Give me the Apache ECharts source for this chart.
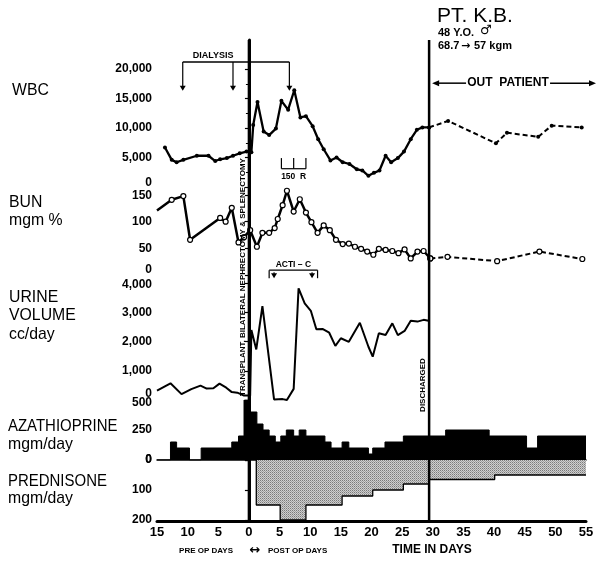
<!DOCTYPE html>
<html>
<head>
<meta charset="utf-8">
<script src="https://cdn.jsdelivr.net/npm/echarts@6/dist/echarts.min.js"></script>
<style>
  html, body { margin: 0; padding: 0; background: #fff; }
  #chart { width: 601px; height: 562px; }
</style>
</head>
<body>
<div id="chart"></div>
<script>
// days: minus = pre op, 0 = transplant
const wbcDays = [-13.7, -12.6, -11.8, -10.7, -8.5, -6.6, -5.5, -4.7, -3.6, -2.6, -1.5, -0.4, 0.4, 0.7, 1.4, 2.4, 3.3, 4.4, 5.3, 6.4, 7.4, 8.4, 9.3, 10.4, 11.3, 12.2, 13.3, 14.3, 15.3, 16.4, 17.6, 18.5, 19.5, 20.4, 21.3, 22.3, 23.2, 24.3, 25.3, 26.4, 27.4, 28.3, 29.4]
const wbcValues = [6700, 4600, 4200, 4600, 5300, 5300, 4400, 4700, 4900, 5300, 5700, 6000, 5900, 10500, 14400, 9400, 8800, 9900, 14600, 13100, 16400, 11800, 12000, 10300, 8100, 6400, 4500, 5000, 4200, 3900, 3000, 2800, 1900, 2400, 2800, 5300, 4200, 4900, 6000, 8100, 9700, 10100, 10100]
const wbcOutDays = [29.4, 32.5, 40.3, 42.1, 47.2, 49.4, 54.3]
const wbcOutValues = [10100, 11200, 7400, 9200, 8500, 10400, 10100]

const bunDays = [-15, -12.6, -10.7, -9.6, -4.7, -3.8, -2.8, -1.7, -0.8, 0.2, 1.3, 2.2, 3.3, 4.2, 4.7, 5.5, 6.2, 7.3, 8.3, 9.3, 10.2, 11.2, 12.2, 13.2, 14.2, 15.3, 16.3, 17.3, 18.3, 19.3, 20.3, 21.2, 22.3, 23.4, 24.4, 25.4, 26.4, 27.5, 28.5, 29.6]
const bunValues = [121, 141, 148, 66, 107, 100, 126, 61, 71, 84, 53, 79, 79, 88, 105, 131, 158, 119, 142, 117, 99, 79, 93, 84, 66, 58, 59, 53, 49, 44, 38, 49, 47, 45, 41, 48, 31, 44, 45, 31]
const bunOutDays = [29.6, 32.4, 40.5, 47.4, 54.4]
const bunOutValues = [31, 34, 26, 44, 30]

const urineDays = [-15, -12.8, -11, -9.4, -7.9, -6.9, -5.8, -4.8, -3.7, -2.8, -1.9, -0.8, 0.2, 0.4, 0.7, 1.2, 2.2, 4.1, 5.5, 6.2, 7.3, 8.1, 9.1, 10.1, 11, 12, 13.1, 14.1, 15, 16.3, 18.1, 19.5, 20.2, 21.2, 22.3, 23.4, 24.3, 25.4, 26.4, 27.5, 28.5, 29.3]
const urineValues = [320, 570, 200, 370, 490, 390, 400, 560, 420, 270, 250, 150, 150, 2390, 2420, 1730, 3210, 20, 30, 0, 380, 3820, 3300, 3050, 2420, 2430, 2300, 1850, 2110, 1990, 2640, 1820, 1480, 2280, 2220, 2620, 2220, 2360, 2710, 2680, 2740, 2710]

// dose steps: dose[i] runs from edges[i] to edges[i + 1]
const azaEdges = [-15, -12.8, -11.8, -9.7, -7.8, -2.8, -1.7, -0.8, 0.2, 1.3, 2.3, 3.3, 4.3, 5.2, 6.1, 7.3, 8.2, 9.3, 12.4, 13.4, 15.2, 16.3, 19.5, 20.2, 22.2, 25.2, 32.1, 39.2, 45.3, 47.1, 55]
const azaDoses = [0, 150, 100, 0, 100, 150, 200, 500, 400, 300, 250, 200, 150, 200, 250, 200, 250, 200, 150, 100, 150, 100, 50, 100, 150, 200, 250, 200, 100, 200]
const predEdges = [1.2, 5.1, 9.3, 15.2, 20.2, 25.2, 29.4, 40.1, 55]
const predDoses = [150, 200, 150, 120, 100, 80, 65, 50]

const transplantDay = 0
const dischargeDay = 29.4
const dialysisDays = [-10.8, -2.6, 6.6]
const radiationDays = [5.3, 7.3, 9.3]
const actinomycinDays = [3.3, 4.1, 10.3, 11.2]

// [min, max, interval]
const wbcTicks = [0, 20000, 5000]
const bunTicks = [0, 150, 50]
const urineTicks = [0, 4000, 1000]
const azaTicks = [0, 500, 250]
const predTicks = [0, 200, 100]

const FONT = "'Liberation Sans', Arial, sans-serif"
const zip = (xs, ys) => xs.map((x, i) => [x, ys[i]])
function steps(edges, doses) {
    const pts = doses.map((d, i) => [edges[i], d])
    pts.push([edges[edges.length - 1], doses[doses.length - 1]])
    return pts
}

// fine grey shading for prednisone
function hatch() {
    const c = document.createElement('canvas')
    c.width = 2
    c.height = 2
    const g = c.getContext('2d')
    g.fillStyle = '#cfcfcf'
    g.fillRect(0, 0, 2, 2)
    g.fillStyle = '#7a7a7a'
    g.fillRect(0, 0, 1, 1)
    g.fillStyle = '#a0a0a0'
    g.fillRect(1, 1, 1, 1)
    return c
}

const LEFT = 157
const RIGHT = 15
const panels = [
    { top: 40, height: 481 }, // frame
    { top: 69, height: 118 }, // wbc
    { top: 195, height: 80 }, // bun
    { top: 283, height: 117 }, // urine
    { top: 400, height: 60 }, // azathioprine
    { top: 460, height: 60 }, // prednisone
]

const labelFont = { color: '#000', fontFamily: FONT, fontWeight: 'bold', fontSize: 12 }
// raise the bottom label and drop the top one a little, like the stacked scales of the original
function yAxisFor(gridIndex, t, raiseZero, dropTop, extra) {
    return Object.assign({
        gridIndex,
        type: 'value',
        min: t[0],
        max: t[1],
        interval: t[2],
        axisLine: { show: false },
        axisTick: { show: true, inside: false, length: 4, lineStyle: { color: '#000', width: 1.2 } },
        axisLabel: Object.assign({}, labelFont, {
            margin: 5,
            formatter: v => {
                const s = v.toLocaleString('en-US')
                if (v === t[0]) return raiseZero ? '{lo|' + s + '}' : s
                if (v === t[1]) return dropTop ? '{hi|' + s + '}' : s
                return s
            },
            rich: {
                lo: Object.assign({}, labelFont, { padding: [0, 0, raiseZero * 2, 0] }),
                hi: Object.assign({}, labelFont, { padding: [dropTop * 2, 0, 0, 0] }),
            },
        }),
        splitLine: { show: false },
    }, extra || {})
}

const chart = echarts.init(document.getElementById('chart'))

chart.setOption({
    animation: false,
    backgroundColor: '#fff',
    grid: panels.map(p => ({ left: LEFT, right: RIGHT, top: p.top, height: p.height })),
    xAxis: panels.map((p, i) => ({
        gridIndex: i,
        type: 'value',
        min: -15,
        max: 55,
        interval: 5,
        show: i === 0 || i === 4,
        axisLine: { show: true, lineStyle: { color: '#000', width: i === 0 ? 3 : 1.5 } },
        axisTick: { show: false },
        axisLabel: {
            show: i === 0,
            color: '#000',
            fontFamily: FONT,
            fontWeight: 'bold',
            fontSize: 13,
            margin: 5,
            formatter: v => Math.abs(v),
        },
        splitLine: { show: false },
    })),
    yAxis: [
        {
            gridIndex: 0, type: 'value', min: 0, max: 1,
            axisLine: { show: true, lineStyle: { color: '#000', width: 3 } },
            axisTick: { show: false }, axisLabel: { show: false }, splitLine: { show: false },
        },
        yAxisFor(1, wbcTicks, 4, 0, { minorTick: { show: true, splitNumber: 2, length: 3, lineStyle: { color: '#000' } } }),
        yAxisFor(2, bunTicks, 5, 1),
        yAxisFor(3, urineTicks, 6, 2),
        yAxisFor(4, azaTicks, 0, 3),
        yAxisFor(5, predTicks, 0, 0, { inverse: true }),
    ],
    series: [
        {
            // transplant and discharge markers
            type: 'custom',
            xAxisIndex: 0,
            yAxisIndex: 0,
            data: [[transplantDay, 0], [dischargeDay, 0]],
            renderItem(params, api) {
                const a = api.coord([api.value(0), 0])
                const b = api.coord([api.value(0), 1])
                return { type: 'line', shape: { x1: a[0], y1: a[1], x2: b[0], y2: b[1] }, style: { stroke: '#000', lineWidth: 2.5 } }
            },
            z: 5,
        },
        {
            type: 'line', xAxisIndex: 4, yAxisIndex: 4,
            data: steps(azaEdges, azaDoses),
            step: 'end', symbol: 'none',
            lineStyle: { color: '#000', width: 1 },
            areaStyle: { color: '#000', opacity: 1 },
        },
        {
            type: 'line', xAxisIndex: 5, yAxisIndex: 5,
            data: [[predEdges[0], 0]].concat(steps(predEdges, predDoses)),
            step: 'end', symbol: 'none',
            lineStyle: { color: '#000', width: 1.3 },
            areaStyle: { color: { image: hatch(), repeat: 'repeat' }, opacity: 1 },
        },
        {
            type: 'line', xAxisIndex: 3, yAxisIndex: 3,
            data: zip(urineDays, urineValues),
            symbol: 'none', clip: false,
            lineStyle: { color: '#000', width: 2 },
        },
        {
            type: 'line', xAxisIndex: 2, yAxisIndex: 2,
            data: zip(bunDays, bunValues).map((p, i) => (i === 0 ? { value: p, symbol: 'none' } : p)),
            symbol: 'circle', symbolSize: 5, clip: false,
            itemStyle: { color: '#fff', borderColor: '#000', borderWidth: 1.2 },
            lineStyle: { color: '#000', width: 2.5 },
        },
        {
            type: 'line', xAxisIndex: 2, yAxisIndex: 2,
            data: zip(bunOutDays, bunOutValues),
            symbol: 'circle', symbolSize: 5, clip: false,
            itemStyle: { color: '#fff', borderColor: '#000', borderWidth: 1.2 },
            lineStyle: { color: '#000', width: 2, type: [5, 3] },
        },
        {
            type: 'line', xAxisIndex: 1, yAxisIndex: 1,
            data: zip(wbcDays, wbcValues),
            symbol: 'circle', symbolSize: 4, clip: false,
            itemStyle: { color: '#000' },
            lineStyle: { color: '#000', width: 2.3 },
        },
        {
            type: 'line', xAxisIndex: 1, yAxisIndex: 1,
            data: zip(wbcOutDays, wbcOutValues),
            symbol: 'circle', symbolSize: 4, clip: false,
            itemStyle: { color: '#000' },
            lineStyle: { color: '#000', width: 2, type: [5, 3] },
        },
    ],
})

// annotations, placed through the axes
const px = (grid, day, val) => chart.convertToPixel({ gridIndex: grid }, [day, val])
const g = []
function text(x, y, s, font, align, vAlign, rot, sx) {
    g.push({
        type: 'text', x, y, rotation: rot || 0, scaleX: sx || 1, z: 10,
        style: { text: s, font, fill: '#000', align: align || 'left', verticalAlign: vAlign || 'middle', textAlign: align || 'left', textVerticalAlign: vAlign || 'middle' },
    })
}
function seg(x1, y1, x2, y2, w) {
    g.push({ type: 'line', z: 10, shape: { x1, y1, x2, y2 }, style: { stroke: '#000', lineWidth: w || 1.5 } })
}
function head(x, y, dir) {
    // small filled arrow head, tip at x,y
    const s = 3
    const pts = {
        down: [[x - s, y - 5], [x + s, y - 5], [x, y]],
        left: [[x + 7, y - s], [x + 7, y + s], [x, y]],
        right: [[x - 7, y - s], [x - 7, y + s], [x, y]],
    }[dir]
    g.push({ type: 'polygon', z: 10, shape: { points: pts }, style: { fill: '#000' } })
}

// dialysis bracket
const dTop = px(1, 0, 21200)[1]
const dTip = px(1, 0, 16300)[1]
const dX = dialysisDays.map(d => px(1, d, 0)[0])
seg(dX[0], dTop, dX[dX.length - 1], dTop)
dX.forEach(x => { seg(x, dTop, x, dTip - 3, 1.2); head(x, dTip, 'down') })
text(dX[0] + 10, dTop - 6, 'DIALYSIS', 'bold 9px ' + FONT)

// 150 R
const rTop = px(1, 0, 4900)[1]
const rBase = px(1, 0, 3100)[1]
const rX = radiationDays.map(d => px(1, d, 0)[0])
seg(rX[0], rBase, rX[rX.length - 1], rBase, 1.2)
rX.forEach(x => seg(x, rBase, x, rTop, 1.2))
text((rX[0] + rX[rX.length - 1]) / 2, rBase + 8, '150  R', 'bold 8.5px ' + FONT, 'center')

// Acti-C
const aLine = px(2, 0, 9)[1]
const aTip = px(2, 0, -6)[1]
const aX = actinomycinDays.map(d => px(2, d, 0)[0])
seg(aX[0], aLine, aX[aX.length - 1], aLine, 1.2)
aX.forEach((x, i) => {
    if (i === 0 || i === aX.length - 1) seg(x, aLine, x, aTip, 1.2)
    else { seg(x, aLine + 2, x, aTip - 2, 1); head(x, aTip, 'down') }
})
text((aX[0] + aX[aX.length - 1]) / 2, aLine - 6, 'ACTI – C', 'bold 8.5px ' + FONT, 'center')

// out patient
const oY = px(1, 0, 17600)[1]
const oL = px(1, dischargeDay, 0)[0] + 3
const oR = 596
const oMid = (oL + oR) / 2 - 6
seg(oL + 4, oY, oMid - 42, oY, 1.5)
seg(oMid + 42, oY, oR - 4, oY, 1.5)
head(oL, oY, 'left')
head(oR, oY, 'right')
text(oMid, oY, 'OUT  PATIENT', 'bold 12px ' + FONT, 'center')

// rotated notes on the event lines
const tX = px(0, transplantDay, 0)[0]
text(tX - 6, 277, 'TRANSPLANT, BILATERAL NEPHRECTOMY & SPLENECTOMY', 'bold 8px ' + FONT, 'center', 'middle', Math.PI / 2)
const xDis = px(0, dischargeDay, 0)[0]
text(xDis - 6, 385, 'DISCHARGED', 'bold 8px ' + FONT, 'center', 'middle', Math.PI / 2)

// header
const sym = "'DejaVu Sans', sans-serif"
text(437, 16, 'PT. K.B.', '21px ' + FONT)
text(438, 33, '48 Y.O.', 'bold 11px ' + FONT)
text(480, 31, '♂', 'bold 13px ' + sym)
text(438, 46, '68.7', 'bold 11px ' + FONT)
text(461, 46, '→', 'bold 11px ' + sym)
text(474, 46, '57 kgm', 'bold 11px ' + FONT)

// panel names
const lab = '17px ' + FONT
const nx = 0.88
text(12, 90, 'WBC', lab, 'left', 'middle', 0, 0.93)
text(9, 202, 'BUN', lab, 'left', 'middle', 0, 0.93)
text(9, 220, 'mgm %', lab, 'left', 'middle', 0, 0.93)
text(9, 297, 'URINE', lab, 'left', 'middle', 0, 0.93)
text(9, 315, 'VOLUME', lab, 'left', 'middle', 0, 0.93)
text(9, 334, 'cc/day', lab, 'left', 'middle', 0, 0.93)
text(8, 426, 'AZATHIOPRINE', lab, 'left', 'middle', 0, nx)
text(8, 444, 'mgm/day', lab, 'left', 'middle', 0, 0.93)
text(8, 481, 'PREDNISONE', lab, 'left', 'middle', 0, nx)
text(8, 498, 'mgm/day', lab, 'left', 'middle', 0, 0.93)

// x axis notes
text(233, 551, 'PRE OP DAYS', 'bold 8px ' + FONT, 'right')
text(255, 551, '↔', 'bold 13px ' + sym, 'center')
text(268, 551, 'POST OP DAYS', 'bold 8px ' + FONT, 'left')
text(432, 550, 'TIME IN DAYS', 'bold 12px ' + FONT, 'center')

chart.setOption({ graphic: g })
</script>
</body>
</html>
